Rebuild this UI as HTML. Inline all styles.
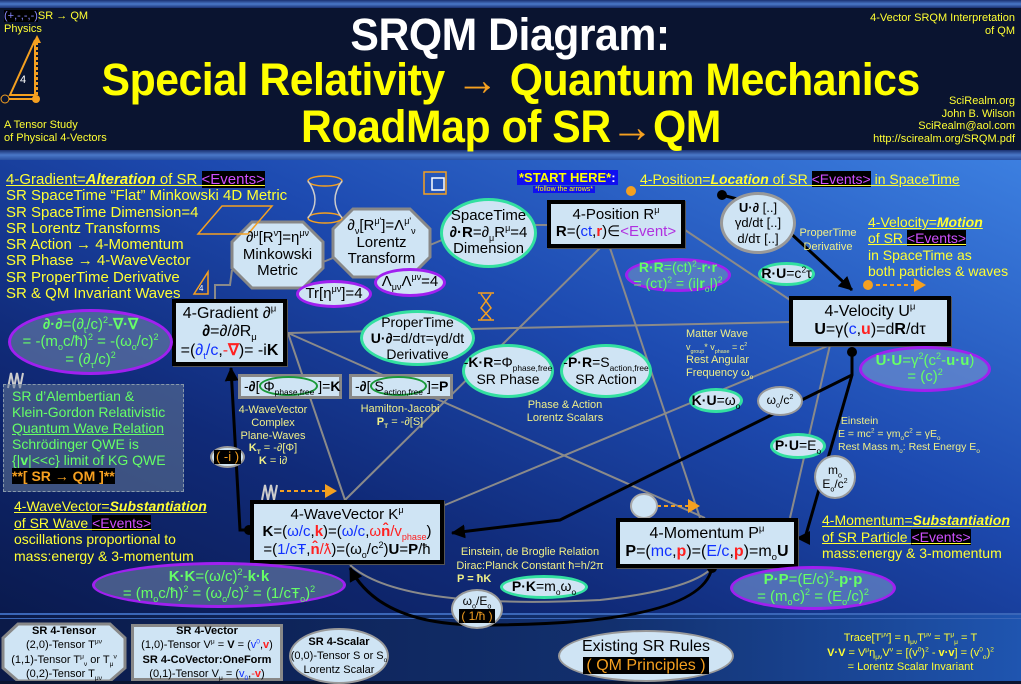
<!DOCTYPE html>
<html><head><meta charset="utf-8"><style>
*{margin:0;padding:0;box-sizing:border-box}
body{width:1021px;height:681px;overflow:hidden;position:relative;font-family:"Liberation Sans",sans-serif;background:#0a1430}
.a{position:absolute;white-space:nowrap}
.c{position:absolute;display:flex;align-items:center;justify-content:center;text-align:center;white-space:nowrap;line-height:1.12}
.y{color:#ffff33}
.yl{color:#f0f088}
.g{color:#66ff66}
.k{color:#000}
.bl{color:#1030ff}
.rd{color:#ff2020}
.ev{background:#000;color:#d050ff}
.u{text-decoration:underline}
sub,sup{font-size:60%;line-height:0}
.box{position:absolute;background:#cfe4f4;border:4px solid #000;box-shadow:1px 1px 0 #555}
.tt{transform:scaleX(.95);letter-spacing:-0.5px}
</style></head><body>
<div style="position:absolute;left:0;top:0;width:1021px;height:8px;background:linear-gradient(#1a3070,#4a78c8,#1a3070)"></div>
<div style="position:absolute;left:0;top:150px;width:1021px;height:10px;background:linear-gradient(#1a3070,#4a78c8,#2a50a0)"></div>
<div style="position:absolute;left:0;top:160px;width:1021px;height:455px;background:linear-gradient(to bottom left,#3c7fe0 0%,#1d4ab0 40%,#102a78 70%,#0a1a4e 100%)"></div>
<div style="position:absolute;left:0;top:613px;width:1021px;height:68px;background:linear-gradient(to right,#0b1a48,#12306e 60%,#1f55b0)"></div>
<div style="position:absolute;left:0;top:613px;width:1021px;height:2px;background:#3a66b8"></div>
<div style="position:absolute;left:0;top:618px;width:1021px;height:1px;background:#3a66b8"></div>

<div class="a" style="left:4px;top:10px;font-size:11px;color:#ffff33;line-height:13px"><span style="background:#000;color:#88f">(+,-,-,-)</span>SR → QM<br>Physics</div>
<svg class="a" style="left:0;top:35px" width="45" height="75"><polygon points="10,60 35,5 35,60" fill="none" stroke="#f5a020" stroke-width="2"/><line x1="37" y1="65" x2="37" y2="5" stroke="#f5a020" stroke-width="2" stroke-dasharray="3,2"/><polygon points="33,8 37,0 41,8" fill="#f5a020"/><line x1="5" y1="64" x2="35" y2="64" stroke="#f5a020" stroke-width="2"/><circle cx="5" cy="64" r="4" fill="#0a1430" stroke="#f5a020"/><circle cx="36" cy="64" r="4" fill="#f5a020"/><text x="20" y="48" fill="#fff" font-size="11" font-family="Liberation Sans">4</text></svg>
<div class="a" style="left:4px;top:119px;font-size:11px;color:#ffff33;line-height:13px">A Tensor Study<br>of Physical 4-Vectors</div>
<div class="a" style="right:6px;top:12px;font-size:11px;color:#ffff33;line-height:13px;text-align:right">4-Vector SRQM Interpretation<br>of QM</div>
<div class="a" style="right:6px;top:95px;font-size:11px;color:#ffff33;line-height:12.5px;text-align:right">SciRealm.org<br>John B. Wilson<br>SciRealm@aol.com<br>http://scirealm.org/SRQM.pdf</div>
<div class="c" style="left:0;width:1021px;top:10px;height:50px;font-size:45px;font-weight:bold;color:#fff"><div class="tt">SRQM Diagram:</div></div>
<div class="c" style="left:0;width:1021px;top:55px;height:50px;font-size:45px;font-weight:bold;color:#ffff00"><div class="tt">Special Relativity <span style="color:#f5a020">→</span> Quantum Mechanics</div></div>
<div class="c" style="left:0;width:1021px;top:102px;height:50px;font-size:45px;font-weight:bold;color:#ffff00"><div class="tt">RoadMap of SR<span style="color:#f5a020">→</span>QM</div></div>

<svg class="a" style="left:0;top:0" width="1021" height="681">
<defs><marker id="ar2" markerWidth="14" markerHeight="14" refX="13" refY="7" orient="auto" markerUnits="userSpaceOnUse"><path d="M0,0L14,7L0,14z" fill="#000"/></marker></defs>
<g stroke="#8a8a8a" stroke-width="2" fill="none">
<line x1="600" y1="248" x2="345" y2="500"/>
<line x1="610" y1="248" x2="700" y2="518"/>
<line x1="288" y1="333" x2="790" y2="322"/>
<line x1="288" y1="333" x2="705" y2="518"/>
<line x1="288" y1="333" x2="345" y2="500"/>
<line x1="830" y1="345" x2="445" y2="505"/>
<line x1="685" y1="230" x2="790" y2="300"/>
<line x1="535" y1="225" x2="548" y2="225"/>
<line x1="830" y1="345" x2="790" y2="518"/>
<polyline points="232,270 230,285 215,285 215,300"/>
<line x1="323" y1="262" x2="333" y2="258"/>
<line x1="430" y1="245" x2="442" y2="240"/>
<path d="M350,565 Q400,610 600,600 Q690,590 712,568"/>
</g>
<g stroke="#000" stroke-width="3" fill="none">
<polyline points="722,195 760,205 852,290" marker-end="url(#ar2)"/>
<polyline points="852,352 852,375 805,538 797,538" marker-end="url(#ar2)"/>
<polyline points="852,375 560,520 452,533" marker-end="url(#ar2)"/>
<path d="M712,568 Q700,625 480,625 Q380,625 350,568" marker-end="url(#ar2)"/>
<polyline points="249,530 240,530 231,368" marker-end="url(#ar2)"/>
</g>
<g fill="#000"><circle cx="722" cy="195" r="5"/><circle cx="852" cy="352" r="5"/><circle cx="712" cy="568" r="5"/><circle cx="249" cy="530" r="5"/></g>
<polygon points="252,222 303,222 323,242 323,268 303,288 252,288 232,268 232,242" fill="#cfe4f4" stroke="#888" stroke-width="3"/>
<polygon points="353,209 410,209 430,229 430,257 410,277 353,277 333,257 333,229" fill="#cfe4f4" stroke="#888" stroke-width="3"/>
<polygon points="18,624 110,624 125,638 125,668 110,681 18,681 3,668 3,638" fill="#cfe4f4" stroke="#888" stroke-width="3"/>
<g stroke="#f5a020" fill="none" stroke-width="1.5"><ellipse cx="325" cy="181" rx="17" ry="5"/><ellipse cx="325" cy="218" rx="17" ry="5"/><path d="M308,181 Q322,200 308,218 M342,181 Q328,200 342,218" stroke="#ccc"/>
<polygon points="198,234 222,206 272,206 248,234"/>
<rect x="424" y="172" width="22" height="22"/><rect x="432" y="178" width="12" height="12" stroke="#fff"/>
<polygon points="194,294 208,272 208,294"/>
<path d="M478,293 h16 M478,320 h16 M481,294 L491,308 L481,319 M491,294 L481,308 L491,319" /></g>
<text x="199" y="291" fill="#fff" font-size="8" font-family="Liberation Sans">4</text>
<g stroke="#ccc" fill="none" stroke-width="2"><polyline points="8,388 11,373 14,388 17,373 20,388 23,373"/><polyline points="262,500 265,485 268,500 271,485 274,500 277,485"/></g>
<g stroke="#f5a020" fill="none" stroke-width="2" stroke-dasharray="4,3"><line x1="280" y1="491" x2="327" y2="491"/><line x1="650" y1="506" x2="690" y2="506"/><line x1="876" y1="285" x2="916" y2="285"/></g>
<g fill="#f5a020"><polygon points="325,484 337,491 325,498"/><polygon points="688,499 700,506 688,513"/><polygon points="914,278 926,285 914,292"/><circle cx="868" cy="285" r="5"/><circle cx="631" cy="191" r="5"/></g>
<ellipse cx="644" cy="506" rx="13" ry="12" fill="#cfe4f4" stroke="#aaa" stroke-width="2"/>
</svg>

<div class="a y" style="left:6px;top:172px;font-size:15px;line-height:16.3px"><span class="u">4-Gradient=<b><i>Alteration</i></b> of SR <span class="ev">&lt;Events&gt;</span></span><br>SR SpaceTime “Flat” Minkowski 4D Metric<br>SR SpaceTime Dimension=4<br>SR Lorentz Transforms<br>SR Action → 4-Momentum<br>SR Phase → 4-WaveVector<br>SR ProperTime Derivative<br>SR &amp; QM Invariant Waves</div>

<div class="c k" style="left:232px;top:222px;width:91px;height:66px;font-size:15px"><div>∂<sup>μ</sup>[R<sup>ν</sup>]=η<sup>μν</sup><br>Minkowski<br>Metric</div></div>
<div class="c k" style="left:333px;top:209px;width:97px;height:68px;font-size:15px"><div>∂<sub>ν</sub>[R<sup>μ'</sup>]=Λ<sup>μ'</sup><sub>ν</sub><br>Lorentz<br>Transform</div></div>
<div class="c k" style="left:296px;top:280px;width:76px;height:28px;border-radius:50%;background:#cfe4f4;border:3px solid #a020f0;font-size:15px"><div>Tr[η<sup>μν</sup>]=4</div></div>
<div class="c k" style="left:374px;top:268px;width:72px;height:29px;border-radius:50%;background:#cfe4f4;border:3px solid #a020f0;font-size:15px"><div>Λ<sub>μν</sub>Λ<sup>μν</sup>=4</div></div>
<div class="c k" style="left:440px;top:198px;width:97px;height:70px;border-radius:50%;background:#cfe4f4;border:3px solid #33e0a0;font-size:15px"><div>SpaceTime<br><b>∂·R</b>=∂<sub>μ</sub>R<sup>μ</sup>=4<br>Dimension</div></div>

<div class="a" style="left:517px;top:170px;background:#1010f0;color:#ffff00;font-weight:bold;font-size:13px;padding:0 2px">*START HERE*<span style="color:#fff">:</span></div>
<div class="a" style="left:533px;top:186px;background:#1010f0;color:#ffff00;font-size:7px;padding:0 2px">*follow the arrows*</div>
<div class="a y u" style="left:640px;top:171px;font-size:14px">4-Position=<b><i>Location</i></b> of SR <span class="ev">&lt;Events&gt;</span> in SpaceTime</div>

<div class="box c k" style="left:547px;top:200px;width:138px;height:48px;font-size:15px"><div>4-Position R<sup>μ</sup><br><b>R</b>=(<span class="bl">ct</span>,<b class="rd">r</b>)∈<span style="color:#b030e0">&lt;Event&gt;</span></div></div>
<div class="c k" style="left:720px;top:192px;width:76px;height:62px;border-radius:50%;background:#cfe4f4;border:3px solid #999;font-size:13px;line-height:1.2"><div><b>U·∂</b> [..]<br>γd/dt [..]<br>d/dτ [..]</div></div>
<div class="c yl" style="left:790px;top:226px;width:76px;height:30px;font-size:11px;line-height:1.25"><div>ProperTime<br>Derivative</div></div>
<div class="a y" style="left:868px;top:214px;font-size:14px;line-height:16.3px"><span class="u">4-Velocity=<b><i>Motion</i></b></span><br><span class="u">of SR <span class="ev">&lt;Events&gt;</span></span><br>in SpaceTime as<br>both particles &amp; waves</div>
<div class="c g" style="left:625px;top:258px;width:106px;height:34px;border-radius:50%;background:rgba(120,150,200,.55);border:3px solid #a020f0;font-size:14px;line-height:1.15"><div><b>R·R</b>=(ct)<sup>2</sup>-<b>r·r</b><br>= (cτ)<sup>2</sup> = (i|<b>r</b><sub>o</sub>|)<sup>2</sup></div></div>
<div class="c k" style="left:758px;top:262px;width:57px;height:24px;border-radius:50%;background:#cfe4f4;border:3px solid #33e0a0;font-size:14px"><div><b>R·U</b>=c<sup>2</sup>τ</div></div>

<div class="box c k" style="left:789px;top:296px;width:162px;height:50px;font-size:16px"><div>4-Velocity U<sup>μ</sup><br><b>U</b>=γ(<span class="bl">c</span>,<b class="rd">u</b>)=d<b>R</b>/dτ</div></div>
<div class="c g" style="left:859px;top:346px;width:132px;height:46px;border-radius:50%;background:rgba(120,150,210,.6);border:3px solid #a020f0;font-size:15px;line-height:1.1"><div><b>U·U</b>=γ<sup>2</sup>(c<sup>2</sup>-<b>u·u</b>)<br>= (c)<sup>2</sup></div></div>

<div class="box c k" style="left:172px;top:299px;width:115px;height:67px;font-size:16px;line-height:1.15"><div>4-Gradient ∂<sup>μ</sup><br><b>∂</b>=∂/∂R<sub>μ</sub><br>=(<span class="bl">∂<sub>t</sub>/c</span>,<span class="rd">-<b>∇</b></span>)= -i<b>K</b></div></div>
<div class="c g" style="left:8px;top:309px;width:165px;height:66px;border-radius:50%;background:rgba(110,130,170,.6);border:3px solid #a020f0;font-size:15px;line-height:1.15"><div><b>∂·∂</b>=(∂<sub>t</sub>/c)<sup>2</sup>-<b>∇·∇</b><br>= -(m<sub>o</sub>c/ħ)<sup>2</sup> = -(ω<sub>o</sub>/c)<sup>2</sup><br>= (∂<sub>τ</sub>/c)<sup>2</sup></div></div>
<div class="a g" style="left:3px;top:384px;width:181px;height:108px;background:rgba(100,120,150,.55);border:1px dashed #8899aa;font-size:14px;line-height:16px;padding:3px 0 0 8px">SR d’Alembertian &amp;<br>Klein-Gordon Relativistic<br><span class="u">Quantum Wave Relation</span><br>Schrödinger QWE is<br>{|<b>v</b>|&lt;&lt;c} limit of KG QWE<br><span style="background:#000;color:#f5a020;font-weight:bold">**[ SR → QM ]**</span></div>

<div class="c k" style="left:360px;top:310px;width:115px;height:56px;border-radius:50%;background:#cfe4f4;border:3px solid #33e0a0;font-size:14px;line-height:1.15"><div>ProperTime<br><b>U·∂</b>=d/dτ=γd/dt<br>Derivative</div></div>
<div class="c k" style="left:462px;top:344px;width:92px;height:54px;border-radius:50%;background:#cfe4f4;border:3px solid #33e0a0;font-size:14px;line-height:1.2"><div>-<b>K·R</b>=Φ<sub>phase,free</sub><br>SR Phase</div></div>
<div class="c k" style="left:560px;top:344px;width:92px;height:54px;border-radius:50%;background:#cfe4f4;border:3px solid #33e0a0;font-size:14px;line-height:1.2"><div>-<b>P·R</b>=S<sub>action,free</sub><br>SR Action</div></div>
<div class="c yl" style="left:520px;top:398px;width:90px;height:28px;font-size:11px;line-height:1.2"><div>Phase &amp; Action<br>Lorentz Scalars</div></div>
<div class="a yl" style="left:686px;top:328px;font-size:11px;line-height:13px">Matter Wave<br><span style="font-size:9px">v<sub>group</sub>* v<sub>phase</sub> = c<sup>2</sup></span><br>Rest Angular<br>Frequency ω<sub>o</sub></div>
<div class="c k" style="left:689px;top:388px;width:54px;height:25px;border-radius:50%;background:#cfe4f4;border:3px solid #33e0a0;font-size:14px"><div><b>K·U</b>=ω<sub>o</sub></div></div>
<div class="c k" style="left:757px;top:386px;width:46px;height:30px;border-radius:50%;background:#cfe4f4;border:2px solid #999;font-size:12px"><div>ω<sub>o</sub>/c<sup>2</sup></div></div>
<div class="a yl" style="left:838px;top:415px;font-size:10.5px;line-height:13px">&nbsp;Einstein<br>E = mc<sup>2</sup> = γm<sub>o</sub>c<sup>2</sup> = γE<sub>o</sub><br>Rest Mass m<sub>o</sub>: Rest Energy E<sub>o</sub></div>
<div class="c k" style="left:770px;top:433px;width:56px;height:26px;border-radius:50%;background:#cfe4f4;border:3px solid #33e0a0;font-size:14px"><div><b>P·U</b>=E<sub>o</sub></div></div>
<div class="c k" style="left:814px;top:455px;width:42px;height:44px;border-radius:50%;background:#cfe4f4;border:2px solid #999;font-size:12px;line-height:1.2"><div>m<sub>o</sub><br>E<sub>o</sub>/c<sup>2</sup></div></div>

<div class="a k" style="left:238px;top:374px;width:104px;height:25px;background:#cfe4f4;border:3px solid #888;font-size:14px;padding:1px 3px">-<b>∂</b>[<span style="border:2px solid #1a9a3a;border-radius:50%;padding:0 2px">Φ<sub>phase,free</sub></span>]=<b>K</b></div>
<div class="a k" style="left:349px;top:374px;width:104px;height:25px;background:#cfe4f4;border:3px solid #888;font-size:14px;padding:1px 3px">-<b>∂</b>[<span style="border:2px solid #1a9a3a;border-radius:50%;padding:0 2px">S<sub>action,free</sub></span>]=<b>P</b></div>
<div class="c yl" style="left:232px;top:402px;width:82px;height:68px;font-size:11px;line-height:1.15"><div>4-WaveVector<br>Complex<br>Plane-Waves<br><b>K<sub>T</sub></b> = -∂[Φ]<br><b>K</b> = i∂</div></div>
<div class="c yl" style="left:345px;top:402px;width:110px;height:28px;font-size:11px;line-height:1.2"><div>Hamilton-Jacobi<br><b>P<sub>T</sub></b> = -∂[S]</div></div>
<div class="c" style="left:210px;top:446px;width:35px;height:22px;border-radius:50%;background:#cfe4f4;border:2px solid #999"><span style="background:#000;color:#f5a020;font-size:13px;padding:0 2px">( -i )</span></div>

<div class="a y" style="left:14px;top:498px;font-size:14px;line-height:16.5px"><span class="u">4-WaveVector=<b><i>Substantiation</i></b></span><br><span class="u">of SR Wave <span class="ev">&lt;Events&gt;</span></span><br>oscillations proportional to<br>mass:energy &amp; 3-momentum</div>
<div class="box c k" style="left:250px;top:500px;width:194px;height:64px;font-size:15px;line-height:1.15"><div>4-WaveVector K<sup>μ</sup><br><b>K</b>=(<span class="bl">ω/c</span>,<b class="rd">k</b>)=(<span class="bl">ω/c</span>,<span class="rd">ω<b>n̂</b>/v<sub>phase</sub></span>)<br>=(<span class="bl">1/cŦ</span>,<span class="rd"><b>n̂</b>/ƛ</span>)=(ω<sub>o</sub>/c<sup>2</sup>)<b>U</b>=<b>P</b>/ħ</div></div>
<div class="box c k" style="left:616px;top:518px;width:182px;height:50px;font-size:16px"><div>4-Momentum P<sup>μ</sup><br><b>P</b>=(<span class="bl">mc</span>,<b class="rd">p</b>)=(<span class="bl">E/c</span>,<b class="rd">p</b>)=m<sub>o</sub><b>U</b></div></div>
<div class="a y" style="left:822px;top:512px;font-size:14px;line-height:16.5px"><span class="u">4-Momentum=<b><i>Substantiation</i></b></span><br><span class="u">of SR Particle <span class="ev">&lt;Events&gt;</span></span><br>mass:energy &amp; 3-momentum</div>
<div class="c yl" style="left:445px;top:545px;width:170px;height:30px;font-size:11px;line-height:1.25"><div>Einstein, de Broglie Relation<br>Dirac:Planck Constant ħ=h/2π</div></div>
<div class="a yl" style="left:457px;top:573px;font-size:11px;font-weight:bold">P = ħK</div>
<div class="c g" style="left:92px;top:562px;width:254px;height:46px;border-radius:50%;background:rgba(110,130,170,.6);border:3px solid #a020f0;font-size:15px;line-height:1.15"><div><b>K·K</b>=(ω/c)<sup>2</sup>-<b>k·k</b><br>= (m<sub>o</sub>c/ħ)<sup>2</sup> = (ω<sub>o</sub>/c)<sup>2</sup> = (1/cŦ<sub>o</sub>)<sup>2</sup></div></div>
<div class="c g" style="left:730px;top:566px;width:166px;height:44px;border-radius:50%;background:rgba(120,150,210,.6);border:3px solid #a020f0;font-size:15px;line-height:1.15"><div><b>P·P</b>=(E/c)<sup>2</sup>-<b>p·p</b><br>= (m<sub>o</sub>c)<sup>2</sup> = (E<sub>o</sub>/c)<sup>2</sup></div></div>
<div class="c k" style="left:500px;top:575px;width:88px;height:24px;border-radius:50%;background:#cfe4f4;border:3px solid #33e0a0;font-size:14px"><div><b>P·K</b>=m<sub>o</sub>ω<sub>o</sub></div></div>
<div class="c k" style="left:451px;top:589px;width:52px;height:40px;border-radius:50%;background:#cfe4f4;border:2px solid #999;font-size:12px;line-height:1.25"><div>ω<sub>o</sub>/E<sub>o</sub><br><span style="background:#000;color:#f5a020;padding:0 2px">( 1/ħ )</span></div></div>

<div class="c k" style="left:3px;top:624px;width:122px;height:57px;font-size:11px;line-height:1.3"><div><b>SR 4-Tensor</b><br>(2,0)-Tensor T<sup>μν</sup><br>(1,1)-Tensor T<sup>μ</sup><sub>ν</sub> or T<sub>μ</sub><sup>ν</sup><br>(0,2)-Tensor T<sub>μν</sub></div></div>
<div class="c k" style="left:131px;top:624px;width:152px;height:57px;background:#cfe4f4;border:3px solid #888;font-size:11px;line-height:1.3"><div><b>SR 4-Vector</b><br>(1,0)-Tensor V<sup>μ</sup> = <b>V</b> = (<span class="bl">v<sup>0</sup></span>,<b class="rd">v</b>)<br><b>SR 4-CoVector:OneForm</b><br>(0,1)-Tensor V<sub>μ</sub> = (<span class="bl">v<sub>0</sub></span>,<span class="rd">-<b>v</b></span>)</div></div>
<div class="c k" style="left:289px;top:628px;width:100px;height:56px;border-radius:50%;background:#cfe4f4;border:2px solid #999;font-size:11px;line-height:1.3"><div><b>SR 4-Scalar</b><br>(0,0)-Tensor S or S<sub>o</sub><br>Lorentz Scalar</div></div>
<div class="c k" style="left:558px;top:630px;width:176px;height:52px;border-radius:50%;background:#cfe4f4;border:2px solid #999;font-size:16px;line-height:1.2"><div>Existing SR Rules<br><span style="background:#000;color:#f5a020;padding:0 3px">( QM Principles )</span></div></div>
<div class="c y" style="left:800px;top:628px;width:221px;height:50px;font-size:11px;line-height:1.35"><div>Trace[T<sup>μν</sup>] = η<sub>μν</sub>T<sup>μν</sup> = T<sup>μ</sup><sub>μ</sub> = T<br><b>V·V</b> = V<sup>μ</sup>η<sub>μν</sub>V<sup>ν</sup> = [(v<sup>0</sup>)<sup>2</sup> - <b>v·v</b>] = (v<sup>0</sup><sub>o</sub>)<sup>2</sup><br>= Lorentz Scalar Invariant</div></div>
</body></html>
